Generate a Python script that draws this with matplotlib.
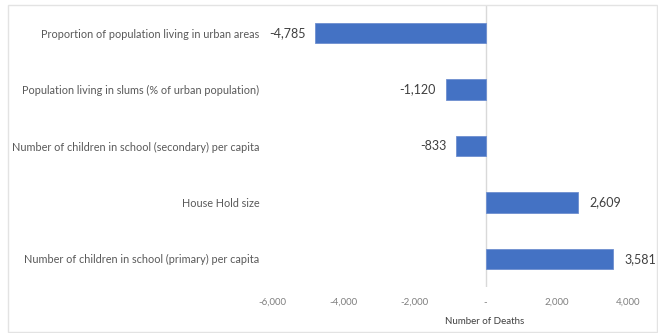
import matplotlib.pyplot as plt
from matplotlib.patches import Rectangle
from matplotlib.ticker import FuncFormatter

# data, top to bottom as in the chart
categories = ['Proportion of population living in urban areas',
              'Population living in slums (% of urban population)',
              'Number of children in school (secondary) per capita',
              'House Hold size',
              'Number of children in school (primary) per capita']
deaths = [-4785, -1120, -833, 2609, 3581]
x_ticks = [-6000, -4000, -2000, 0, 2000, 4000]

bar_color = '#4472C4'
text_color = '#595959'

plt.rcParams['font.family'] = ['Lato', 'DejaVu Sans']

fig = plt.figure(figsize=(6.58, 3.33), dpi=100)
ax = fig.add_axes([272 / 658, 1 - 287 / 333, (628 - 272) / 658, (287 - 5) / 333])

ypos = list(range(len(categories)))
ax.barh(ypos, deaths, height=0.36, color=bar_color, edgecolor='#6E8FD0', linewidth=0.6, zorder=3)
ax.set_ylim(len(categories) - 0.5, -0.5)
ax.set_xlim(-6000, 4000)

# data labels
for y, v in zip(ypos, deaths):
    lbl = '{:,}'.format(v)
    if v < 0:
        ax.annotate(lbl, (v, y), xytext=(-7, 0), textcoords='offset points',
                    ha='right', va='center', fontsize=9, color='#404040')
    else:
        ax.annotate(lbl, (v, y), xytext=(8, 0), textcoords='offset points',
                    ha='left', va='center', fontsize=9, color='#404040')

ax.set_yticks(ypos)
ax.set_yticklabels(categories, fontsize=7.85, color=text_color)
ax.tick_params(axis='y', length=0, pad=9)

ax.set_xticks(x_ticks)
ax.xaxis.set_major_formatter(FuncFormatter(lambda v, p: '-' if v == 0 else '{:,.0f}'.format(v)))
ax.tick_params(axis='x', length=0, pad=8, labelsize=7, labelcolor='#7F7F7F')

for s in ax.spines.values():
    s.set_visible(False)
ax.axvline(0, color='#D9D9D9', linewidth=1, zorder=1)

fig.text(485 / 658, 1 - 321 / 333, 'Number of Deaths', ha='center', va='center',
         fontsize=7, color='#404040')

# chart border
fig.add_artist(Rectangle((8 / 658, 1 - 332 / 333), (657 - 8) / 658, (332 - 5) / 333,
                         transform=fig.transFigure, fill=False, edgecolor='#E3E3E3', linewidth=1))

fig.savefig('out.png', dpi=100)
